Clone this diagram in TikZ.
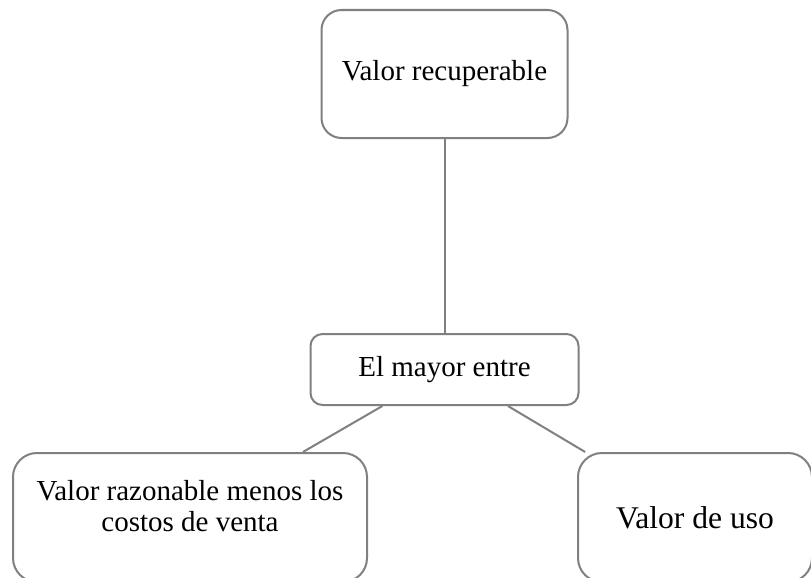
\documentclass[tikz,border=0pt]{standalone}
\usepackage{fontspec}
\setmainfont{Liberation Serif}
\usetikzlibrary{calc}
\definecolor{boxgray}{RGB}{128,128,128}
\tikzset{
  entry/.style={draw=boxgray, line width=1pt, rounded corners=10pt, align=center,
    font=\fontsize{14.5}{15.5}\selectfont, inner sep=0pt},
  link/.style={draw=boxgray, line width=1pt},
}
\begin{document}
\begin{tikzpicture}[x=0.5pt,y=-0.5pt]
\useasboundingbox (0,0) rectangle (811,578);
\clip (0,0) rectangle (811,578);

\node[entry, minimum width=123pt, minimum height=64pt] (recup) at (444.5,74) {Valor recuperable};
\node[entry, rounded corners=6pt, minimum width=134pt, minimum height=35.5pt] (mayor) at (444.5,369.5) {El mayor entre};
\node[entry, rounded corners=12pt, minimum width=177pt, minimum height=64.5pt] (razon) at (190,517.5) {Valor razonable menos los\\costos de venta\\[-4pt]};
\node[entry, rounded corners=12pt, minimum width=117pt, minimum height=64.5pt,
  font=\fontsize{15.8}{17}\selectfont] (uso) at (695,517.5) {Valor de uso};

\draw[link] (recup) -- (mayor);
\draw[link] ($(mayor.south west)!0.27!(mayor.south east)$) -- (razon);
\draw[link] ($(mayor.south west)!0.735!(mayor.south east)$) -- (uso);
\end{tikzpicture}
\end{document}
